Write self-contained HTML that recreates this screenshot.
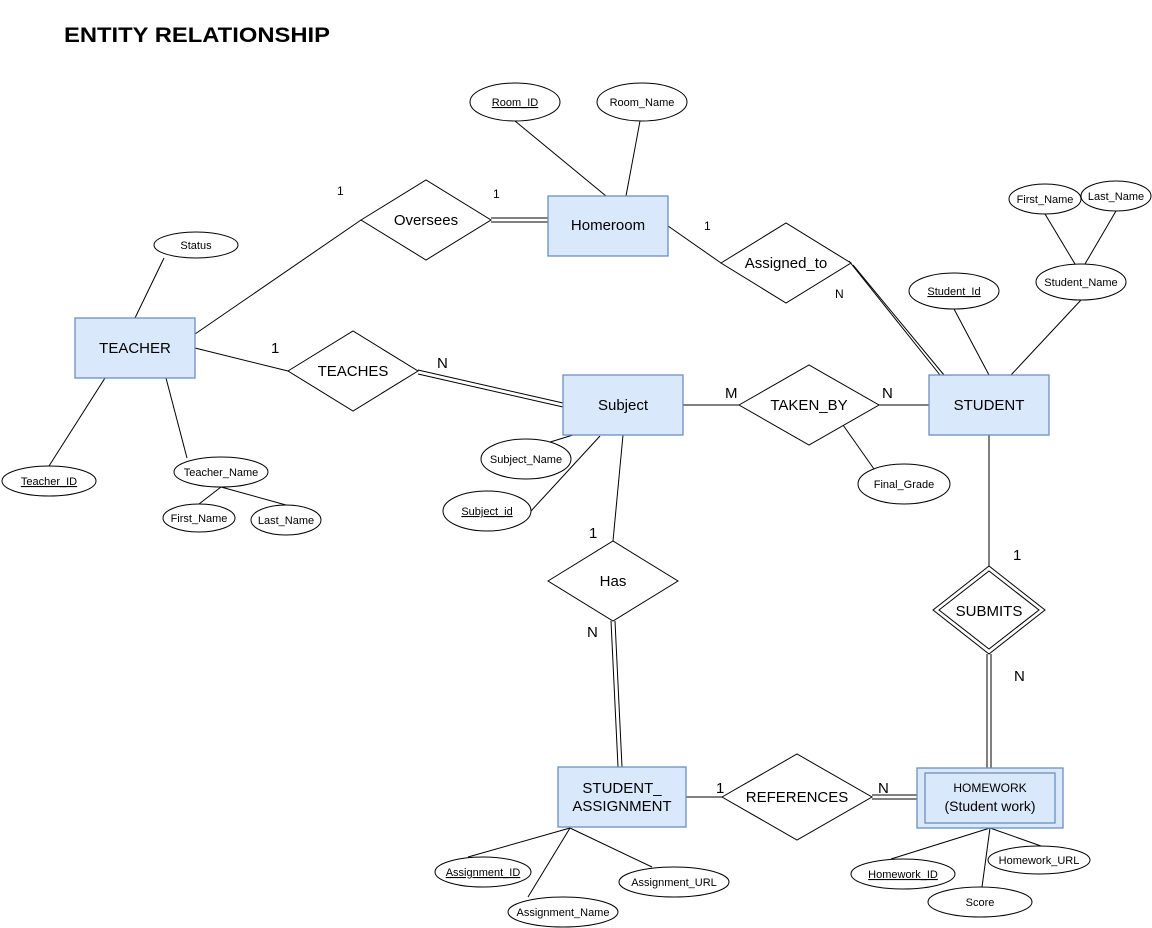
<!DOCTYPE html>
<html><head><meta charset="utf-8"><style>
html,body{margin:0;padding:0;background:#fff;width:1152px;height:928px;overflow:hidden}
svg text{font-family:"Liberation Sans Narrow","Liberation Sans",sans-serif;fill:#000}
</style></head><body>
<svg width="1152" height="928" viewBox="0 0 1152 928" xmlns="http://www.w3.org/2000/svg">
<text x="64" y="42" font-size="21" font-weight="bold" textLength="266" lengthAdjust="spacingAndGlyphs" style="font-family:'Liberation Sans',sans-serif">ENTITY RELATIONSHIP</text>
<g stroke="#000" stroke-width="1" fill="none">
<line x1="515" y1="121" x2="606" y2="196"/>
<line x1="640" y1="121" x2="626" y2="196"/>
<line x1="164" y1="258" x2="135" y2="318"/>
<line x1="105" y1="378" x2="49" y2="466"/>
<line x1="166" y1="378" x2="187" y2="458"/>
<line x1="221" y1="487" x2="199" y2="504"/>
<line x1="221" y1="487" x2="286" y2="505"/>
<line x1="1045" y1="214" x2="1075" y2="264"/>
<line x1="1116" y1="211" x2="1085" y2="264"/>
<line x1="954" y1="309" x2="989" y2="375"/>
<line x1="1081" y1="300" x2="1011" y2="375"/>
<line x1="573" y1="435" x2="547" y2="443"/>
<line x1="600" y1="436" x2="531" y2="511"/>
<line x1="843" y1="425" x2="874" y2="469"/>
<line x1="570" y1="828" x2="468" y2="857"/>
<line x1="570" y1="828" x2="528" y2="897"/>
<line x1="570" y1="828" x2="652" y2="867"/>
<line x1="990" y1="828" x2="891" y2="859"/>
<line x1="990" y1="828" x2="982" y2="887"/>
<line x1="990" y1="828" x2="1041" y2="846"/>
<line x1="195" y1="334" x2="361" y2="220"/>
<line x1="491" y1="218" x2="548" y2="218"/>
<line x1="491" y1="222" x2="548" y2="222"/>
<line x1="668" y1="226" x2="721" y2="263"/>
<line x1="849" y1="261" x2="940" y2="375"/>
<line x1="853" y1="265" x2="944" y2="375"/>
<line x1="195" y1="348" x2="288" y2="371"/>
<line x1="418" y1="370" x2="563" y2="403"/>
<line x1="418" y1="374" x2="563" y2="407"/>
<line x1="683" y1="405" x2="739" y2="405"/>
<line x1="879" y1="405" x2="929" y2="405"/>
<line x1="623" y1="435" x2="613" y2="541"/>
<line x1="611" y1="621" x2="618" y2="767"/>
<line x1="615" y1="621" x2="622" y2="767"/>
<line x1="989" y1="435" x2="989" y2="566"/>
<line x1="987" y1="654" x2="987" y2="768"/>
<line x1="991" y1="654" x2="991" y2="768"/>
<line x1="686" y1="797" x2="722" y2="797"/>
<line x1="872" y1="795" x2="917" y2="795"/>
<line x1="872" y1="799" x2="917" y2="799"/>
</g>
<g fill="#dae8fc" stroke="#6c8ebf" stroke-width="1.3">
<rect x="75" y="318" width="120" height="60"/>
<rect x="548" y="196" width="120" height="60"/>
<rect x="563" y="375" width="120" height="60"/>
<rect x="929" y="375" width="120" height="60"/>
<rect x="558" y="767" width="128" height="60"/>
<rect x="917" y="768" width="146" height="60"/>
<rect x="925" y="773" width="130" height="50" fill="none"/>
</g>
<g fill="#fff" stroke="#000" stroke-width="1">
<polygon points="361,220 426,180 491,220 426,260"/>
<polygon points="721,263 786,223 851,263 786,303"/>
<polygon points="288,371 353,331 418,371 353,411"/>
<polygon points="739,405 809,365 879,405 809,445"/>
<polygon points="548,581 613,541 678,581 613,621"/>
<polygon points="933,610 989,566 1045,610 989,654"/>
<polygon points="939,610 989,571 1039,610 989,649"/>
<polygon points="722,797 797,754 872,797 797,840"/>
</g>
<g fill="#fff" stroke="#000" stroke-width="1">
<ellipse cx="515" cy="102" rx="45" ry="19"/>
<ellipse cx="642" cy="102" rx="45" ry="19"/>
<ellipse cx="196" cy="245" rx="42" ry="13"/>
<ellipse cx="1045" cy="199" rx="36" ry="15"/>
<ellipse cx="1116" cy="196" rx="35" ry="15"/>
<ellipse cx="1081" cy="282" rx="45" ry="18"/>
<ellipse cx="954" cy="291" rx="45" ry="18"/>
<ellipse cx="49" cy="481" rx="47" ry="15"/>
<ellipse cx="221" cy="472" rx="47" ry="15"/>
<ellipse cx="199" cy="518" rx="36" ry="14"/>
<ellipse cx="286" cy="520" rx="35" ry="15"/>
<ellipse cx="526" cy="459" rx="45" ry="20"/>
<ellipse cx="487" cy="511" rx="44" ry="20"/>
<ellipse cx="904" cy="484" rx="46" ry="20"/>
<ellipse cx="483" cy="872" rx="48" ry="15"/>
<ellipse cx="563" cy="912" rx="55" ry="15"/>
<ellipse cx="674" cy="882" rx="55" ry="15"/>
<ellipse cx="903" cy="874" rx="52" ry="15"/>
<ellipse cx="980" cy="902" rx="52" ry="15"/>
<ellipse cx="1039" cy="860" rx="51" ry="14"/>
</g>
<g text-anchor="middle" font-size="15">
<text x="135" y="353">TEACHER</text>
<text x="608" y="230">Homeroom</text>
<text x="623" y="410">Subject</text>
<text x="989" y="410">STUDENT</text>
<text x="622" y="793">STUDENT_</text>
<text x="622" y="811">ASSIGNMENT</text>
<text x="426" y="225">Oversees</text>
<text x="786" y="268">Assigned_to</text>
<text x="353" y="376">TEACHES</text>
<text x="809" y="410">TAKEN_BY</text>
<text x="613" y="586">Has</text>
<text x="989" y="616">SUBMITS</text>
<text x="797" y="802">REFERENCES</text>
</g>
<g text-anchor="middle" font-size="12">
<text x="990" y="792">HOMEWORK</text>
<text x="990" y="811" font-size="14">(Student work)</text>
</g>
<g text-anchor="middle" font-size="11">
<text x="515" y="106" text-decoration="underline">Room_ID</text>
<text x="642" y="106">Room_Name</text>
<text x="196" y="249">Status</text>
<text x="1045" y="203">First_Name</text>
<text x="1116" y="200">Last_Name</text>
<text x="1081" y="286">Student_Name</text>
<text x="954" y="295" text-decoration="underline">Student_Id</text>
<text x="49" y="485" text-decoration="underline">Teacher_ID</text>
<text x="221" y="476">Teacher_Name</text>
<text x="199" y="522">First_Name</text>
<text x="286" y="524">Last_Name</text>
<text x="526" y="463">Subject_Name</text>
<text x="487" y="515" text-decoration="underline">Subject_id</text>
<text x="904" y="488">Final_Grade</text>
<text x="483" y="876" text-decoration="underline">Assignment_ID</text>
<text x="563" y="916">Assignment_Name</text>
<text x="674" y="886">Assignment_URL</text>
<text x="903" y="878" text-decoration="underline">Homework_ID</text>
<text x="980" y="906">Score</text>
<text x="1039" y="864">Homework_URL</text>
</g>
<g font-size="12">
<text x="337" y="195">1</text>
<text x="493" y="198">1</text>
<text x="704" y="230">1</text>
<text x="835" y="298">N</text>
</g>
<g font-size="15">
<text x="271" y="353">1</text>
<text x="437" y="368">N</text>
<text x="725" y="398">M</text>
<text x="882" y="398">N</text>
<text x="589" y="538">1</text>
<text x="587" y="637">N</text>
<text x="1013" y="560">1</text>
<text x="1014" y="681">N</text>
<text x="716" y="793">1</text>
<text x="878" y="793">N</text>
</g>
</svg>
</body></html>
